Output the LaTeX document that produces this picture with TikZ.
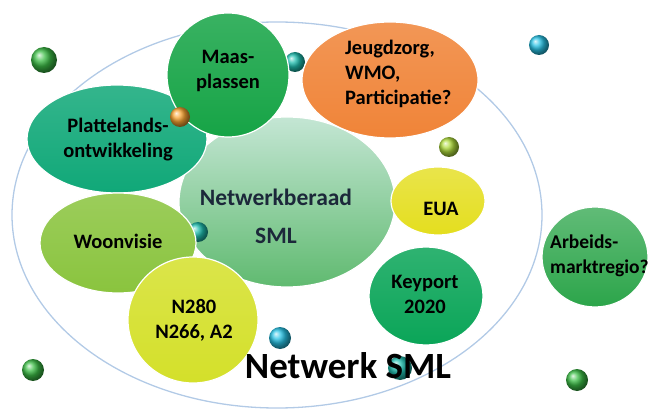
\documentclass[tikz,border=0pt]{standalone}
\usepackage{fontspec}
\setmainfont{Carlito}
\usepackage{tikz}

\definecolor{ringblue}{RGB}{178,202,230}
\definecolor{maasgreen}{RGB}{22,164,70}
\definecolor{plattegreen}{RGB}{16,168,120}
\definecolor{jeugdorange}{RGB}{240,132,56}
\definecolor{euayellow}{RGB}{228,222,30}
\definecolor{keygreen}{RGB}{10,165,88}
\definecolor{arbeidgreen}{RGB}{44,165,74}
\definecolor{woongreen}{RGB}{138,196,62}
\definecolor{wegyellow}{RGB}{212,224,42}
\definecolor{beraadgreen}{RGB}{96,186,112}
\definecolor{beraadmint}{RGB}{196,230,212}
\definecolor{navytext}{RGB}{28,40,58}
\definecolor{beadgreen}{RGB}{60,190,70}
\definecolor{beadteal}{RGB}{30,190,175}
\definecolor{beadcyan}{RGB}{40,195,230}
\definecolor{beadlime}{RGB}{175,220,60}
\definecolor{beadorange}{RGB}{250,165,50}

\begin{document}
\begin{tikzpicture}[x=1pt,y=1pt,
  bubble/.style={draw=white,line width=1.2pt},
  bead/.style={ball color=#1},
  bubbletext/.style={font=\fontsize{20.5}{25}\selectfont\bfseries,align=center,text=black}]
\tikzstyle{every node}+=[inner sep=0pt]
\useasboundingbox (0,0) rectangle (653,-414);
% outer ring
\draw [ringblue,line width=1.3pt] (277,-215) ellipse (265 and 193);
% beads behind
\shade [bead=beadgreen] (44,-60) circle (13);
\shade [bead=beadteal] (295,-62) circle (10);
\shade [bead=beadcyan] (539,-45) circle (10);
\shade [bead=beadlime] (449,-147) circle (10);
\shade [bead=beadcyan] (280,-338) circle (11);
\shade [bead=beadgreen] (33,-370) circle (11);
\shade [bead=beadgreen] (577,-380) circle (11);
\shade [bead=beadteal] (400,-368) circle (12);
% centre
\shadedraw [bubble,top color=beraadmint,middle color=white,bottom color=beraadgreen] (287,-202) ellipse (108 and 85);
\shade [bead=beadteal] (198,-232) circle (10);
% bubbles
\shadedraw [bubble,top color=plattegreen!85!white,bottom color=plattegreen] (117,-139) ellipse (90 and 54);
\shadedraw [bubble,top color=maasgreen!85!white,bottom color=maasgreen] (228,-75) ellipse (61 and 62);
\shadedraw [bubble,top color=jeugdorange!85!white,bottom color=jeugdorange] (390,-80) ellipse (88 and 58);
\shadedraw [bubble,top color=woongreen!85!white,bottom color=woongreen] (118,-243) ellipse (78 and 50);
\shadedraw [bubble,top color=wegyellow!85!white,bottom color=wegyellow] (193,-320) ellipse (65 and 63);
\shadedraw [bubble,top color=euayellow!80!white,bottom color=euayellow] (438,-201) ellipse (47 and 34);
\shadedraw [bubble,top color=keygreen!85!white,bottom color=keygreen] (426,-296) ellipse (57 and 49);
\shadedraw [bubble,top color=arbeidgreen!75!white,bottom color=arbeidgreen] (595,-257) ellipse (53 and 50);
\shade [bead=beadorange] (180,-117) circle (10);
% labels
\node [bubbletext] (maas) at (228,-71) {Maas-\\plassen};
\node [bubbletext] (platteland) at (118,-140) {Plattelands-\\ontwikkeling};
\node [bubbletext,anchor=west,align=left] (jeugd) at (345,-74) {Jeugdzorg,\\WMO,\\Participatie?};
\node [bubbletext] (eua) at (441,-209) {EUA};
\node [bubbletext] (keyport) at (425,-294) {Keyport\\2020};
\node [bubbletext,anchor=west,align=left,font=\fontsize{19.5}{25}\selectfont\bfseries] (arbeid) at (550,-256) {Arbeids-\\marktregio?};
\node [bubbletext] (woon) at (118,-241) {Woonvisie};
\node [bubbletext] (wegen) at (194,-320) {N280\\N266, A2};
\node [font=\fontsize{23.5}{28}\selectfont\bfseries,text=navytext] (beraad) at (276,-197) {Netwerkberaad};
\node [font=\fontsize{23.5}{28}\selectfont\bfseries,text=navytext] (beraadsml) at (276,-236) {SML};
\node [font=\fontsize{37}{40}\selectfont\bfseries,text=black] (netwerk) at (348,-366) {Netwerk SML};
\end{tikzpicture}
\end{document}
